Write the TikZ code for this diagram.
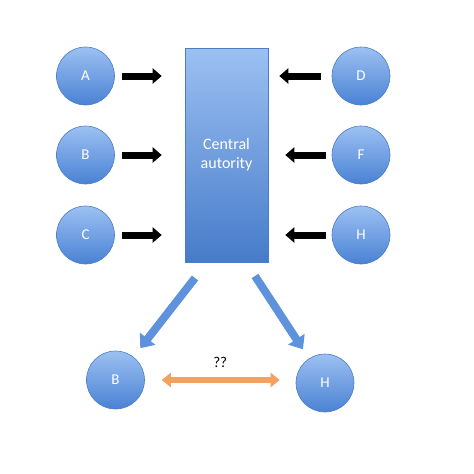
\documentclass[tikz,border=0pt]{standalone}
\usepackage{fontspec}
\setmainfont{Carlito}
\usetikzlibrary{positioning, arrows.meta, shadows}
\definecolor{nodetop}{HTML}{9CC0F2}
\definecolor{nodebot}{HTML}{4A82D4}
\definecolor{nodeline}{HTML}{4A7EC4}
\definecolor{blockarrow}{HTML}{5E92DC}
\definecolor{linkorange}{HTML}{F2A15E}
\begin{document}
\begin{tikzpicture}[x=1pt, y=-1pt,
        party/.style={
                circle,
                minimum size=58pt,
                inner sep=0pt,
                top color=nodetop,
                bottom color=nodebot,
                draw=nodeline,
                line width=0.6pt,
                text=white,
                font=\fontsize{15}{18}\selectfont,
        },
        authority/.style={
                rectangle,
                minimum width=83pt,
                minimum height=214pt,
                top color=nodetop,
                bottom color=nodebot!95!black,
                draw=nodeline,
                line width=0.6pt,
                text=white,
                align=center,
                font=\fontsize{16}{19}\selectfont,
        },
        sendarrow/.style={
                line width=7pt,
                -{Triangle[width=15pt,length=9pt]},
        },
        splitarrow/.style={
                draw=blockarrow,
                line width=8pt,
                -{Triangle[width=19pt,length=12pt]},
        },
        trustarrow/.style={
                draw=linkorange,
                line width=6pt,
                {Triangle[width=14pt,length=9pt]}-{Triangle[width=14pt,length=9pt]},
        }]
            \useasboundingbox (0,0) rectangle (474,474);
            \node[authority] (ca) at (226.5, 155) {Central\\autority};
            \node[party] (a) at (85.5, 76) {A};
            \node[party] (b) at (85.5, 155) {B};
            \node[party] (c) at (85.5, 235) {C};
            \node[party] (d) at (361, 76) {D};
            \node[party] (f) at (361, 155) {F};
            \node[party] (h) at (361, 235) {H};
            \node[party] (b2) at (115.5, 380) {B};
            \node[party] (h2) at (325, 383) {H};
            \draw[sendarrow, shorten <=7pt, shorten >=23pt] (a.east) -- (a.east -| ca.west);
            \draw[sendarrow, shorten <=7pt, shorten >=23pt] (b.east) -- (b.east -| ca.west);
            \draw[sendarrow, shorten <=7pt, shorten >=23pt] (c.east) -- (c.east -| ca.west);
            \draw[sendarrow, shorten <=11pt, shorten >=11pt] (d.west) -- (d.west -| ca.east);
            \draw[sendarrow, shorten <=6pt, shorten >=17pt] (f.west) -- (f.west -| ca.east);
            \draw[sendarrow, shorten <=6pt, shorten >=17pt] (h.west) -- (h.west -| ca.east);
            \coordinate (lefttail) at (195, 278);
            \coordinate (righttail) at (255, 276);
            \draw[splitarrow, shorten >=11pt] (lefttail) -- (b2);
            \draw[splitarrow, shorten >=11pt] (righttail) -- (h2);
            \draw[trustarrow, shorten <=17pt, shorten >=16pt] (b2.east) -- (b2.east -| h2.west)
                node[midway, above=6pt, font=\fontsize{15}{18}\selectfont] (ask) {??};
        \end{tikzpicture}
\end{document}
